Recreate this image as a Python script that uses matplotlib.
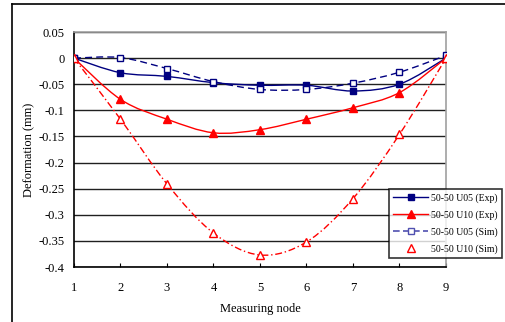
import matplotlib
matplotlib.use("Agg")
import matplotlib.pyplot as plt
from matplotlib.path import Path
from matplotlib.patches import PathPatch
from matplotlib.lines import Line2D
import numpy as np

plt.rcParams['font.family'] = ['Liberation Serif', 'DejaVu Serif']

# measuring nodes
nodes = [1, 2, 3, 4, 5, 6, 7, 8, 9]
# deformation (mm)
u05_exp = [0, -0.028, -0.035, -0.047, -0.052, -0.052, -0.063, -0.050, 0.0]
u10_exp = [0, -0.079, -0.117, -0.143, -0.137, -0.117, -0.095, -0.066, 0.0]
u05_sim = [0, 0.001, -0.020, -0.045, -0.060, -0.060, -0.048, -0.027, 0.005]
u10_sim = [0, -0.117, -0.241, -0.335, -0.377, -0.352, -0.269, -0.146, 0.0]


def smooth_path(x, y):
    # Excel-style smoothed line as cubic bezier segments through the points
    p = np.column_stack([x, y]).astype(float)
    n = len(p)
    verts = [p[0]]
    codes = [Path.MOVETO]
    for i in range(n - 1):
        p0 = p[i - 1] if i > 0 else p[i]
        p3 = p[i + 2] if i + 2 < n else p[i + 1]
        c1 = p[i] + (p[i + 1] - p0) / 6.0
        c2 = p[i + 1] - (p3 - p[i]) / 6.0
        verts += [c1, c2, p[i + 1]]
        codes += [Path.CURVE4] * 3
    return Path(verts, codes)


fig = plt.figure(figsize=(5.06, 3.22), dpi=100)
ax = fig.add_axes([74 / 506, 1 - 267 / 322, 372 / 506, 235 / 322])

navy = '#000080'
red = '#ff0000'

series = [
    (u05_exp, navy, '-', 's', navy, 5, 1.0),
    (u10_exp, red, '-', '^', red, 6, 1.0),
    (u05_sim, navy, (0, (5, 3)), 's', 'white', 5, 1.0),
    (u10_sim, red, (0, (5, 2, 1, 2)), '^', 'white', 6, 1.0),
]
for vals, col, ls, mk, fc, ms, lw in series:
    ax.add_patch(PathPatch(smooth_path(nodes, vals), fill=False, edgecolor=col,
                           linestyle=ls, linewidth=lw, zorder=3))
    ax.plot(nodes, vals, linestyle='none', marker=mk, markersize=ms,
            markerfacecolor=fc, markeredgecolor=col, markeredgewidth=1, zorder=4)

ax.set_xlim(1, 9)
ax.set_ylim(-0.4, 0.05)
ax.set_xticks(nodes)
ax.set_yticks(np.arange(-0.4, 0.051, 0.05))
ax.set_yticklabels(['-0.4', '-0.35', '-0.3', '-0.25', '-0.2', '-0.15', '-0.1',
                    '-0.05', '0', '0.05'])
ax.yaxis.grid(True, color='#202020', linewidth=1)
ax.set_axisbelow(True)
ax.tick_params(axis='x', direction='in', length=3, labelsize=9, pad=11)
ax.tick_params(axis='y', length=0, labelsize=9, pad=7)
for s in ['top', 'right']:
    ax.spines[s].set_color('#a0a0a0')
    ax.spines[s].set_linewidth(1.2)
for s in ['left', 'bottom']:
    ax.spines[s].set_color('black')
    ax.spines[s].set_linewidth(1.2)

ax.set_xlabel('Measuring node', fontsize=9, labelpad=6)
ax.set_ylabel('Deformation (mm)', fontsize=9, labelpad=2)

handles = [
    Line2D([], [], color=navy, marker='s', markersize=5, linewidth=1),
    Line2D([], [], color=red, marker='^', markersize=6, linewidth=1),
    Line2D([], [], color='#5050b0', linestyle=(0, (4, 2)), marker='s',
           markersize=5, markerfacecolor='white', linewidth=1.2),
    Line2D([], [], color=red, linestyle='none', marker='^', markersize=6,
           markerfacecolor='white'),
]
labels = ['50-50 U05 (Exp)', '50-50 U10 (Exp)', '50-50 U05 (Sim)', '50-50 U10 (Sim)']
leg = fig.legend(handles, labels, loc='upper left',
                 bbox_to_anchor=(389 / 506, 1 - 189 / 322),
                 fontsize=7, frameon=True, fancybox=False, handlelength=3.6,
                 borderpad=0.45, labelspacing=0.75, handletextpad=0.3,
                 borderaxespad=0)
leg.get_frame().set_edgecolor('black')
leg.get_frame().set_linewidth(1.2)

# outer chart frame
fig.add_artist(Line2D([12 / 506, 12 / 506], [0, 1 - 4 / 322], color='black',
                      linewidth=1.2, transform=fig.transFigure))
fig.add_artist(Line2D([12 / 506, 1], [1 - 4 / 322, 1 - 4 / 322], color='black',
                      linewidth=1.2, transform=fig.transFigure))

fig.savefig('out.png', dpi=100)
